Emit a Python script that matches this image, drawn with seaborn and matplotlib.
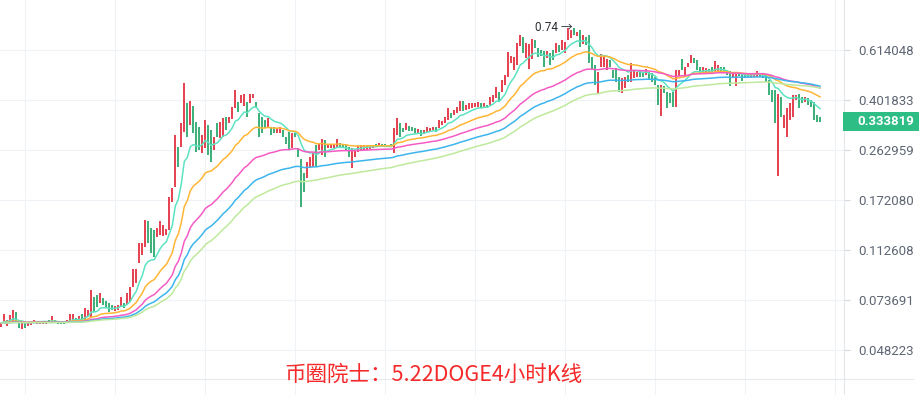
import matplotlib
matplotlib.use("Agg")
import matplotlib.pyplot as plt
from matplotlib.lines import Line2D
from matplotlib.patches import Rectangle
from matplotlib.ticker import NullLocator, FixedLocator
import numpy as np
import pandas as pd
import seaborn as sns

# 4h DOGE candles (open / close)
opens = [
    0.0586, 0.0606, 0.0591, 0.0606, 0.0606, 0.0666, 0.0612, 0.0576, 0.0606, 0.0591,
    0.0596, 0.0606, 0.0601, 0.0601, 0.0601, 0.0601, 0.0622, 0.0606, 0.0622, 0.0617,
    0.0617, 0.0617, 0.0606, 0.0612, 0.0617, 0.0633, 0.0612, 0.0654, 0.0622, 0.0638,
    0.0638, 0.0756, 0.0769, 0.0718, 0.0750, 0.0731, 0.0718, 0.0706, 0.0672, 0.0677,
    0.0694, 0.0718, 0.0706, 0.0725, 0.0823, 0.0852, 0.1008, 0.1079, 0.1156, 0.1440,
    0.1357, 0.1334, 0.1258, 0.1279, 0.1268, 0.1279, 0.1334, 0.1692, 0.1922, 0.2696,
    0.2696, 0.3063, 0.3917, 0.3250, 0.3818, 0.3334, 0.3196, 0.2564, 0.2675, 0.3250,
    0.3115, 0.2630, 0.3307, 0.2911, 0.2936, 0.3479, 0.3307, 0.3420, 0.3754, 0.3950,
    0.3917, 0.3818, 0.3950, 0.3917, 0.4087, 0.3950, 0.3598, 0.3479, 0.3391, 0.3196,
    0.3196, 0.3196, 0.3037, 0.3037, 0.3115, 0.2936, 0.3063, 0.2675, 0.3037, 0.2675,
    0.2436, 0.2163, 0.2075, 0.2257, 0.2276, 0.2743, 0.2630, 0.2520, 0.2862, 0.2675,
    0.2675, 0.2675, 0.2675, 0.2789, 0.2766, 0.2743, 0.2696, 0.2257, 0.2478, 0.2585,
    0.2630, 0.2630, 0.2630, 0.2652, 0.2675, 0.2766, 0.2696, 0.2766, 0.2766, 0.2743,
    0.2766, 0.2564, 0.2986, 0.3307, 0.3170, 0.3115, 0.3223, 0.3196, 0.3170, 0.3037,
    0.3115, 0.3011, 0.3063, 0.3063, 0.3115, 0.3196, 0.3170, 0.3250, 0.3307, 0.3391,
    0.3598, 0.3538, 0.3598, 0.3660, 0.3984, 0.3691, 0.3722, 0.3754, 0.3787, 0.3787,
    0.3917, 0.3787, 0.3851, 0.3851, 0.3950, 0.4087, 0.4302, 0.4302, 0.4563, 0.4883,
    0.5499, 0.5182, 0.5407, 0.6360, 0.6867, 0.5739, 0.5226, 0.5690, 0.6691, 0.6246,
    0.6140, 0.6088, 0.5739, 0.5986, 0.6140, 0.5986, 0.6413, 0.6140, 0.5986, 0.6691,
    0.6804, 0.7409, 0.6923, 0.7284, 0.6470, 0.6867, 0.6981, 0.5788, 0.5407, 0.4265,
    0.5316, 0.5316, 0.5182, 0.5641, 0.5182, 0.5271, 0.4883, 0.4265, 0.4450, 0.4967,
    0.4682, 0.4842, 0.4883, 0.5182, 0.5095, 0.4967, 0.5095, 0.5052, 0.4883, 0.4563,
    0.3508, 0.4525, 0.4302, 0.4265, 0.4302, 0.3787, 0.4925, 0.5690, 0.4967, 0.5316,
    0.5497, 0.5739, 0.5641, 0.5316, 0.5052, 0.5052, 0.5226, 0.5316, 0.5138, 0.5095,
    0.5316, 0.5316, 0.5138, 0.5138, 0.4883, 0.4525, 0.5095, 0.5052, 0.5052, 0.5052,
    0.4883, 0.4883, 0.4883, 0.5052, 0.5052, 0.4967, 0.4761, 0.4374, 0.4374, 0.2108,
    0.4121, 0.3166, 0.2936, 0.3391, 0.3479, 0.4018, 0.4228, 0.4121, 0.3950, 0.4087,
    0.4018, 0.3950, 0.3538, 0.3479,
]
closes = [
    0.0606, 0.0654, 0.0622, 0.0649, 0.0677, 0.0606, 0.0581, 0.0606, 0.0581, 0.0606,
    0.0612, 0.0622, 0.0617, 0.0617, 0.0617, 0.0617, 0.0606, 0.0643, 0.0606, 0.0601,
    0.0601, 0.0601, 0.0622, 0.0654, 0.0654, 0.0612, 0.0643, 0.0622, 0.0689, 0.0677,
    0.0802, 0.0666, 0.0694, 0.0782, 0.0706, 0.0689, 0.0666, 0.0677, 0.0700, 0.0706,
    0.0756, 0.0689, 0.0782, 0.0823, 0.0958, 0.0958, 0.1195, 0.1195, 0.1452, 0.1195,
    0.1098, 0.1061, 0.1357, 0.1440, 0.1392, 0.1346, 0.1768, 0.1905, 0.2986, 0.2276,
    0.3307, 0.4643, 0.2936, 0.3984, 0.3037, 0.2585, 0.2630, 0.2986, 0.3391, 0.2520,
    0.2375, 0.2936, 0.2936, 0.3334, 0.3449, 0.3115, 0.3479, 0.3787, 0.4374, 0.3629,
    0.4192, 0.4228, 0.3479, 0.4228, 0.4228, 0.3787, 0.2936, 0.3037, 0.3170, 0.3449,
    0.2986, 0.3037, 0.3170, 0.3196, 0.2936, 0.2766, 0.2630, 0.3037, 0.2936, 0.2478,
    0.1621, 0.1841, 0.2375, 0.2478, 0.2585, 0.2276, 0.2766, 0.2886, 0.2478, 0.2766,
    0.2766, 0.2743, 0.2886, 0.2675, 0.2675, 0.2630, 0.2478, 0.2675, 0.2630, 0.2720,
    0.2743, 0.2743, 0.2743, 0.2743, 0.2743, 0.2696, 0.2789, 0.2696, 0.2696, 0.2696,
    0.2696, 0.3170, 0.3449, 0.2936, 0.3063, 0.3307, 0.3089, 0.3089, 0.3037, 0.3142,
    0.2961, 0.3115, 0.3196, 0.3170, 0.3196, 0.3063, 0.3391, 0.3362, 0.3479, 0.3754,
    0.3449, 0.3691, 0.3787, 0.3984, 0.3660, 0.3851, 0.3917, 0.3917, 0.3917, 0.3950,
    0.3754, 0.3917, 0.3754, 0.4121, 0.4192, 0.4489, 0.3950, 0.4761, 0.4967, 0.6037,
    0.5837, 0.5788, 0.6525, 0.6981, 0.5986, 0.6525, 0.6470, 0.6747, 0.6246, 0.5788,
    0.5837, 0.5316, 0.6088, 0.5407, 0.5641, 0.6525, 0.6037, 0.6691, 0.6580, 0.7409,
    0.7284, 0.6981, 0.7160, 0.6305, 0.6981, 0.6413, 0.5497, 0.5182, 0.4563, 0.5095,
    0.5937, 0.5788, 0.5690, 0.5316, 0.4842, 0.4682, 0.4302, 0.4842, 0.4883, 0.4682,
    0.5497, 0.5182, 0.5095, 0.4883, 0.4883, 0.5226, 0.4761, 0.4682, 0.4563, 0.3851,
    0.4563, 0.4265, 0.3754, 0.3917, 0.3787, 0.5182, 0.5182, 0.5182, 0.5316, 0.5497,
    0.5885, 0.5497, 0.5182, 0.5052, 0.5316, 0.5271, 0.5052, 0.5095, 0.5588, 0.5407,
    0.5052, 0.5052, 0.4967, 0.4525, 0.5095, 0.5095, 0.4925, 0.4721, 0.4842, 0.4883,
    0.5052, 0.5052, 0.5138, 0.4883, 0.4842, 0.4682, 0.4192, 0.3950, 0.3307, 0.4228,
    0.3479, 0.3538, 0.3754, 0.3917, 0.4192, 0.4192, 0.3754, 0.3917, 0.4121, 0.3851,
    0.3787, 0.3391, 0.3334, 0.333819,
]

# exponential moving averages on close
ema_spans = [12, 30, 60, 90, 120]
ema_colors = ["#5ee3c2", "#ffb636", "#f45cc4", "#3db5ec", "#bfe99c"]
price_ticks = [0.048223, 0.073691, 0.112608, 0.172080, 0.262959, 0.401833, 0.614048]
title_text = "币圈院士：5.22DOGE4小时K线"

up_color = "#e5404f"
down_color = "#3caf78"

sns.set_theme(style="white")
plt.rcParams["font.family"] = ["Roboto", "Noto Sans CJK SC", "DejaVu Sans"]

df = pd.DataFrame({"open": opens, "close": closes})
df["idx"] = np.arange(len(df))

# moving averages, long form for seaborn
ma_frames = []
for n in ema_spans:
    ma_frames.append(pd.DataFrame({
        "idx": df["idx"],
        "value": df["close"].ewm(span=n, adjust=False).mean(),
        "ma": f"EMA{n}",
    }))
ma_long = pd.concat(ma_frames, ignore_index=True)
palette = {f"EMA{n}": c for n, c in zip(ema_spans, ema_colors)}

W, H = 919, 395
fig = plt.figure(figsize=(W / 100, H / 100), dpi=100)
ax = fig.add_axes([0, 0, 844 / W, 1])
ax.set_yscale("log")
ax.set_xlim(-0.43, 280.9)
ax.set_ylim(0.03293, 0.9386)

# grid
ax.yaxis.set_major_locator(FixedLocator(price_ticks))
ax.yaxis.set_minor_locator(NullLocator())
ax.set_yticklabels([f"{v:.6f}" for v in price_ticks])
ax.set_xticks(np.arange(8, 281, 30))
ax.xaxis.set_minor_locator(NullLocator())
ax.grid(True, color="#eff2f6", linewidth=0.8)
ax.set_axisbelow(True)

# candles
up = df["close"] >= df["open"]
ax.vlines(df.loc[up, "idx"], df.loc[up, "open"], df.loc[up, "close"],
          color=up_color, linewidth=1.4, zorder=2)
ax.vlines(df.loc[~up, "idx"], df.loc[~up, "open"], df.loc[~up, "close"],
          color=down_color, linewidth=1.4, zorder=2)

sns.lineplot(data=ma_long, x="idx", y="value", hue="ma", palette=palette,
             legend=False, ax=ax, linewidth=1.1, zorder=3)
ax.set_xlabel("")
ax.set_ylabel("")

# axes styling
for side in ["left", "top", "bottom"]:
    ax.spines[side].set_visible(False)
ax.spines["right"].set_color("#e3e6eb")
ax.spines["right"].set_linewidth(0.8)
ax.yaxis.tick_right()
ax.tick_params(axis="y", length=4, width=0.8, color="#d5d9df",
               labelcolor="#5e6673", labelsize=9.5, pad=6)
ax.tick_params(axis="x", length=0, labelbottom=False)

# bottom separator line
fig.add_artist(Line2D([0, 913 / W], [16 / H, 16 / H], color="#e6e9ee", linewidth=0.8))

# max price marker
i_max = int(np.argmax(np.maximum(df["open"], df["close"])))
v_max = max(df["open"][i_max], df["close"][i_max])
ax.annotate(f"{v_max:.2f} →", xy=(i_max, v_max), xytext=(3, 0),
            textcoords="offset points", ha="right", va="center",
            fontsize=8.5, color="#2b2f36")

# last price tag
fig.canvas.draw()
y_pix = ax.transData.transform((0, closes[-1]))[1]
fig.add_artist(Rectangle((843 / W, (y_pix - 9.5) / H), 76 / W, 19 / H,
                         transform=fig.transFigure, facecolor="#2ebd85",
                         edgecolor="none"))
fig.text(857 / W, y_pix / H, f"{closes[-1]:.6f}", color="white", fontsize=9.5,
         fontweight="bold", ha="left", va="center")

fig.text(433 / W, 20 / H, title_text, color="#f52a2a", fontsize=15.5,
         family=["Noto Sans CJK SC", "DejaVu Sans"], ha="center", va="center")

fig.savefig("out.png", dpi=100)
